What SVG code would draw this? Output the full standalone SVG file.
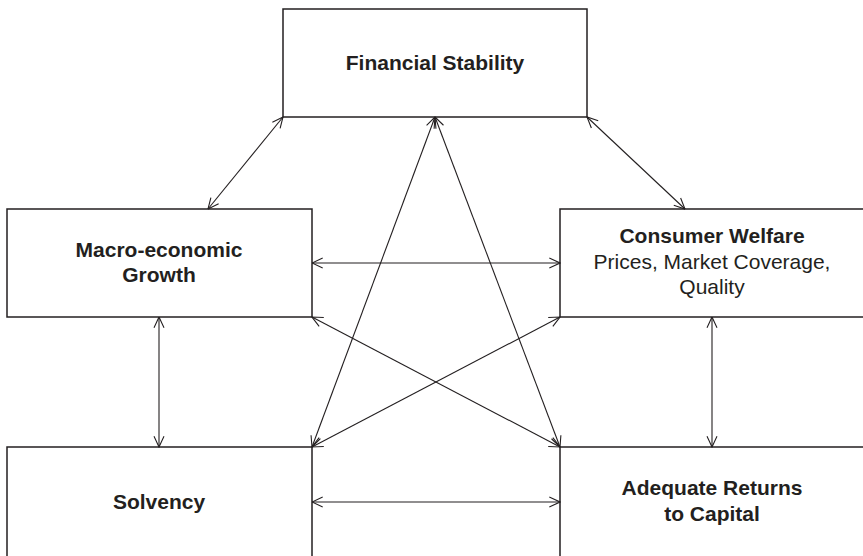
<svg xmlns="http://www.w3.org/2000/svg" width="863" height="556" viewBox="0 0 863 556">
<style>
.box{fill:#fff;stroke:#231f20;stroke-width:1.5}
.t{font-family:"Liberation Sans",Arial,sans-serif;font-size:21px;fill:#231f20;text-anchor:middle}
.b{font-weight:bold}
.c{stroke:#231f20;stroke-width:1.1;fill:none;marker-start:url(#ah);marker-end:url(#ah)}
</style>
<defs>
<marker id="ah" viewBox="0 0 12 12" refX="11.5" refY="6" markerWidth="12" markerHeight="12" markerUnits="userSpaceOnUse" orient="auto-start-reverse">
<path d="M0.8,1 L11.5,6 L0.8,11" fill="none" stroke="#231f20" stroke-width="1.1"/>
</marker>
</defs>
<rect width="863" height="556" fill="#fff"/>
<g id="financial-stability">
<rect class="box" x="283" y="9" width="304" height="108"/>
<text class="t b" x="435" y="70">Financial Stability</text>
</g>
<g id="macro-growth">
<rect class="box" x="7" y="209" width="305" height="108"/>
<text class="t b" x="159" y="257">Macro-economic</text>
<text class="t b" x="159" y="282">Growth</text>
</g>
<g id="consumer-welfare">
<rect class="box" x="560" y="209" width="320" height="108"/>
<text class="t b" x="712" y="243">Consumer Welfare</text>
<text class="t" x="712" y="269">Prices, Market Coverage,</text>
<text class="t" x="712" y="294">Quality</text>
</g>
<g id="solvency">
<rect class="box" x="7" y="447" width="305" height="120"/>
<text class="t b" x="159" y="509">Solvency</text>
</g>
<g id="adequate-returns">
<rect class="box" x="560" y="447" width="320" height="120"/>
<text class="t b" x="712" y="495">Adequate Returns</text>
<text class="t b" x="712" y="521">to Capital</text>
</g>
<g id="connectors">
<line class="c" x1="283" y1="117" x2="208" y2="209"/>
<line class="c" x1="587" y1="117" x2="685" y2="209"/>
<line class="c" x1="435" y1="117" x2="312" y2="447"/>
<line class="c" x1="435" y1="117" x2="560" y2="447"/>
<line class="c" x1="312" y1="263" x2="560" y2="263"/>
<line class="c" x1="159" y1="317" x2="159" y2="447"/>
<line class="c" x1="712" y1="317" x2="712" y2="447"/>
<line class="c" x1="312" y1="317" x2="560" y2="447"/>
<line class="c" x1="560" y1="317" x2="312" y2="447"/>
<line class="c" x1="312" y1="502" x2="560" y2="502"/>
</g>
</svg>
